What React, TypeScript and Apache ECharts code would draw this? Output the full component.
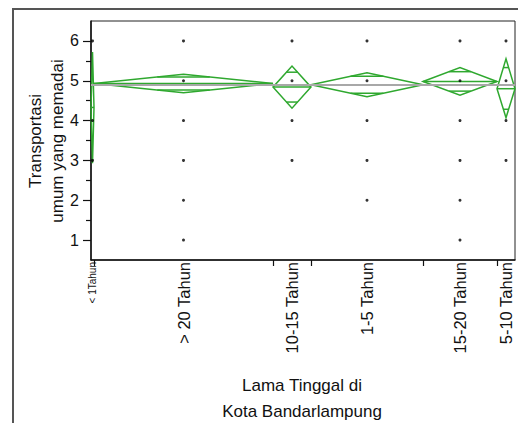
import React, { useEffect, useRef } from "react";
import * as echarts from "echarts";

// Categories (JMP oneway: widths proportional to group size)
const categories = ["< 1Tahun", "> 20 Tahun", "10-15 Tahun", "1-5 Tahun", "15-20 Tahun", "5-10 Tahun"];
const counts = [3, 179, 38, 112, 74, 18];
const means = [4.33, 4.93, 4.84, 4.9, 4.98, 4.8];
const ciLow = [2.93, 4.7, 4.31, 4.6, 4.64, 4.07];
const ciHigh = [5.72, 5.16, 5.37, 5.2, 5.33, 5.55];
const observed = [
  [6, 4, 3],
  [6, 5, 4, 3, 2, 1],
  [6, 5, 4, 3],
  [6, 5, 4, 3, 2],
  [6, 5, 4, 3, 2, 1],
  [6, 5, 4, 3],
];
const grandMean = 4.91;
const yTicks = [1, 2, 3, 4, 5, 6];
const yMinorTicks = [1.5, 2.5, 3.5, 4.5, 5.5];

const GREEN = "#2fa82f";
const FONT = "Liberation Sans, Arial, sans-serif";

export default function App() {
  const ref = useRef<HTMLDivElement>(null);
  useEffect(() => {
    if (!ref.current) return;
    const chart = echarts.init(ref.current, null, { renderer: "svg" });

    const starts: number[] = [];
    let acc = 0;
    counts.forEach((c) => {
      starts.push(acc);
      acc += c;
    });
    const total = acc;
    const ends = starts.map((s, i) => s + counts[i]);
    const centers = starts.map((s, i) => s + counts[i] / 2);
    const boundaries = ends.slice(0, ends.length - 1);

    const dots: number[][] = [];
    observed.forEach((vals, i) => vals.forEach((v) => dots.push([centers[i], v])));

    const diamonds = categories.map((_, i) => [starts[i], ends[i], means[i], ciLow[i], ciHigh[i]]);

    const option: any = {
      animation: false,
      grid: {
        left: 91,
        right: 3,
        top: 21,
        bottom: 163,
        show: true,
        borderColor: "#222",
        borderWidth: 1,
        outerBoundsMode: "none",
      },
      xAxis: {
        type: "value",
        min: 0,
        max: total,
        splitLine: { show: false },
        axisLine: { show: true, lineStyle: { color: "#111", width: 1.5 } },
        axisTick: {
          show: true,
          customValues: boundaries,
          length: 6,
          lineStyle: { color: "#111", width: 1.2 },
        },
        axisLabel: {
          show: true,
          customValues: centers,
          rotate: 90,
          margin: 2,
          fontFamily: FONT,
          fontSize: 16.5,
          color: "#111",
          formatter: (v: number) => {
            const idx = centers.findIndex((c) => Math.abs(c - v) < 0.01);
            if (idx < 0) return "";
            if (counts[idx] < 10) return "{s|" + categories[idx] + "}";
            return categories[idx];
          },
          rich: {
            s: { fontSize: 10, fontFamily: FONT, color: "#111" },
          },
        },
      },
      yAxis: [
        {
          type: "value",
          min: 0.5,
          max: 6.5,
          splitLine: { show: false },
          axisLine: { show: true, lineStyle: { color: "#111", width: 1.5 } },
          axisTick: {
            show: true,
            customValues: yTicks,
            length: 8,
            lineStyle: { color: "#111", width: 1.2 },
          },
          axisLabel: {
            show: true,
            customValues: yTicks,
            margin: 12,
            fontFamily: FONT,
            fontSize: 16,
            color: "#111",
          },
        },
        {
          type: "value",
          position: "left",
          min: 0.5,
          max: 6.5,
          splitLine: { show: false },
          axisLine: { show: false },
          axisTick: {
            show: true,
            customValues: yMinorTicks,
            length: 5,
            lineStyle: { color: "#111", width: 1.2 },
          },
          axisLabel: { show: false },
        },
      ],
      series: [
        {
          type: "scatter",
          data: dots,
          symbol: "circle",
          symbolSize: 3,
          itemStyle: { color: "#000" },
          z: 4,
          markLine: {
            silent: true,
            symbol: "none",
            label: { show: false },
            lineStyle: { color: "#a8a8a8", width: 2, type: "solid" },
            data: [{ yAxis: grandMean }],
          },
        },
        {
          type: "custom",
          data: diamonds,
          z: 3,
          renderItem: (params: any, api: any) => {
            const x0 = api.value(0);
            const x1 = api.value(1);
            const m = api.value(2);
            const lo = api.value(3);
            const hi = api.value(4);
            const xc = (x0 + x1) / 2;
            const pL = api.coord([x0, m]);
            const pR = api.coord([x1, m]);
            const pT = api.coord([xc, hi]);
            const pB = api.coord([xc, lo]);
            const frac = 1 - 1 / Math.SQRT2;
            const w = (x1 - x0) * frac / 2;
            const uo = m + (hi - m) / Math.SQRT2;
            const lo2 = m - (m - lo) / Math.SQRT2;
            const u1 = api.coord([xc - w, uo]);
            const u2 = api.coord([xc + w, uo]);
            const l1 = api.coord([xc - w, lo2]);
            const l2 = api.coord([xc + w, lo2]);
            const st = { stroke: GREEN, lineWidth: 1.5, fill: null };
            return {
              type: "group",
              children: [
                { type: "polygon", shape: { points: [pL, pT, pR, pB] }, style: st },
                { type: "line", shape: { x1: pL[0], y1: pL[1], x2: pR[0], y2: pR[1] }, style: st },
                { type: "line", shape: { x1: u1[0], y1: u1[1], x2: u2[0], y2: u2[1] }, style: st },
                { type: "line", shape: { x1: l1[0], y1: l1[1], x2: l2[0], y2: l2[1] }, style: st },
              ],
            };
          },
        },
      ],
      graphic: [
        {
          type: "rect",
          shape: { x: 13, y: 9, width: 700, height: 600 },
          style: { fill: null, stroke: "#555", lineWidth: 2 },
          silent: true,
        },
        {
          type: "text",
          x: 35,
          y: 141,
          rotation: Math.PI / 2,
          style: {
            text: "Transportasi",
            fontFamily: FONT,
            fontSize: 17,
            fill: "#111",
            align: "center",
            verticalAlign: "middle",
          },
        },
        {
          type: "text",
          x: 57,
          y: 141,
          rotation: Math.PI / 2,
          style: {
            text: "umum yang memadai",
            fontFamily: FONT,
            fontSize: 17,
            fill: "#111",
            align: "center",
            verticalAlign: "middle",
          },
        },
        {
          type: "text",
          x: 302,
          y: 385,
          style: {
            text: "Lama Tinggal di",
            fontFamily: FONT,
            fontSize: 17,
            fill: "#111",
            align: "center",
            verticalAlign: "middle",
          },
        },
        {
          type: "text",
          x: 302,
          y: 411,
          style: {
            text: "Kota Bandarlampung",
            fontFamily: FONT,
            fontSize: 17,
            fill: "#111",
            align: "center",
            verticalAlign: "middle",
          },
        },
      ],
    };
    chart.setOption(option);
    return () => chart.dispose();
  }, []);
  return (
    <div
      ref={ref}
      style={{ position: "fixed", left: 0, top: 0, width: 518, height: 423, background: "#fff" }}
    />
  );
}
